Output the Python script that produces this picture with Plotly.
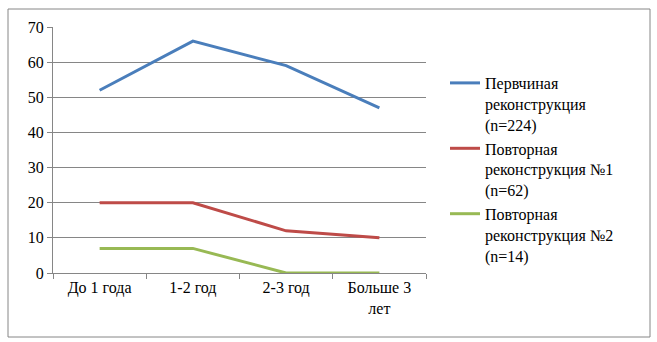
import plotly.graph_objects as go

categories = ["До 1 года", "1-2 год", "2-3 год", "Больше 3<br>лет"]
series_names = [
    "Первчиная<br>реконструкция<br>(n=224)",
    "Повторная<br>реконструкция №1<br>(n=62)",
    "Повторная<br>реконструкция №2<br>(n=14)",
]
primary = [52, 66, 59, 47]
repeat1 = [20, 20, 12, 10]
repeat2 = [7, 7, 0, 0]
colors = ["#4A7EBB", "#BE4B48", "#98B954"]
y_ticks = [0, 10, 20, 30, 40, 50, 60, 70]

FONT = "Times New Roman"

fig = go.Figure()
for name, vals, col in zip(series_names, [primary, repeat1, repeat2], colors):
    fig.add_trace(go.Scatter(x=categories, y=vals, name=name, mode="lines",
                             line=dict(color=col, width=3)))

L, R, T, B = 53, 231, 27, 69
W, H = 657, 342
pw, ph = W - L - R, H - T - B

def px2x(p):
    return (p - L) / pw

def py2y(p):
    return (H - B - p) / ph

fig.update_layout(
    width=W, height=H,
    margin=dict(l=L, r=R, t=T, b=B),
    paper_bgcolor="white", plot_bgcolor="white",
    showlegend=True,
    legend=dict(x=px2x(445), y=py2y(66), xanchor="left", yanchor="top",
                valign="top", font=dict(family=FONT, size=16, color="#000000"),
                bgcolor="rgba(0,0,0,0)"),
    xaxis=dict(type="category", showgrid=False, showline=True,
               linecolor="#868686", linewidth=1, ticks="outside",
               tickson="boundaries", ticklen=5, tickcolor="#868686",
               range=[-0.5, 3.5],
               tickfont=dict(family=FONT, size=16, color="#000000")),
    yaxis=dict(range=[0, 70], tickvals=y_ticks, showgrid=True,
               gridcolor="#868686", gridwidth=1, showline=True,
               linecolor="#868686", linewidth=1, ticks="outside", ticklen=5,
               tickcolor="#868686", zeroline=False, ticksuffix="   ",
               tickfont=dict(family=FONT, size=16, color="#000000")),
    shapes=[dict(type="rect", xref="paper", yref="paper",
                 x0=px2x(8), x1=px2x(650), y0=py2y(337), y1=py2y(9),
                 line=dict(color="#868686", width=1), layer="below")],
)

fig.write_html("out.html")
